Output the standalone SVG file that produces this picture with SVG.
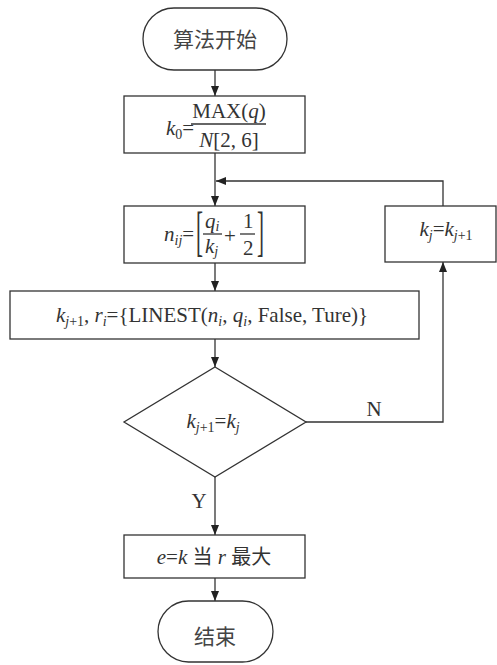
<svg xmlns="http://www.w3.org/2000/svg" width="497" height="665" viewBox="0 0 497 665">
<defs>
<marker id="ah" viewBox="0 0 10 8" refX="10" refY="4" markerWidth="10" markerHeight="8" markerUnits="userSpaceOnUse" orient="auto">
<path d="M0,0 L10,4 L0,8 Z" fill="#222"/>
</marker>
<style>
.s{fill:#fff;stroke:#333;stroke-width:1.3}
.c{fill:none;stroke:#333;stroke-width:1.3}
.t{font-family:'Liberation Serif','Noto Sans CJK SC',serif;font-size:21px;fill:#333}
.z{font-family:'Noto Sans CJK SC',sans-serif;font-size:21px;fill:#444}
.i{font-style:italic}
.sb{font-size:14px}
.cj{font-family:'Noto Sans CJK SC',sans-serif;font-size:20px}
</style>
</defs>
<rect width="497" height="665" fill="#fff"/>
<g id="connectors">
<line class="c" x1="215" y1="70" x2="215" y2="96" marker-end="url(#ah)"/>
<line class="c" x1="215" y1="153" x2="215" y2="206" marker-end="url(#ah)"/>
<polyline class="c" points="443,206 443,181 216,181" marker-end="url(#ah)"/>
<line class="c" x1="215" y1="263" x2="215" y2="291" marker-end="url(#ah)"/>
<line class="c" x1="215" y1="339" x2="215" y2="367" marker-end="url(#ah)"/>
<polyline class="c" points="306,422 443,422 443,262" marker-end="url(#ah)"/>
<line class="c" x1="215" y1="477" x2="215" y2="535" marker-end="url(#ah)"/>
<line class="c" x1="215" y1="578" x2="215" y2="601" marker-end="url(#ah)"/>
<text class="t" x="374" y="416" text-anchor="middle">N</text>
<text class="t" x="199" y="508" text-anchor="middle">Y</text>
</g>
<g id="start">
<rect class="s" x="143" y="8" width="144" height="62" rx="31"/>
<text class="z" x="215" y="47" text-anchor="middle">算法开始</text>
</g>
<g id="init">
<rect class="s" x="124" y="96" width="181" height="57"/>
<text class="t" x="166" y="135"><tspan class="i">k</tspan><tspan class="sb" dy="4">0</tspan><tspan dy="-4">=</tspan></text>
<line class="c" x1="191" y1="124" x2="266" y2="124" stroke-width="1"/>
<text class="t" x="229" y="118" text-anchor="middle">MAX(<tspan class="i">q</tspan>)</text>
<text class="t" x="229" y="147" text-anchor="middle"><tspan class="i">N</tspan>[2, 6]</text>
</g>
<g id="nij">
<rect class="s" x="124" y="206" width="181" height="57"/>
<text class="t" x="164" y="241"><tspan class="i">n</tspan><tspan class="sb i" dy="4">ij</tspan><tspan dy="-4">=</tspan></text>
<text class="t" transform="translate(196,250) scale(1,2.65)">[</text>
<text class="t i" x="205" y="228">q<tspan class="sb" dy="3">i</tspan></text>
<line class="c" x1="203" y1="234" x2="222" y2="234" stroke-width="1"/>
<text class="t i" x="205" y="253">k<tspan class="sb" dy="3">j</tspan></text>
<text class="t" x="224" y="243">+</text>
<text class="t" x="243" y="228">1</text>
<line class="c" x1="240" y1="234" x2="255" y2="234" stroke-width="1"/>
<text class="t" x="243" y="255">2</text>
<text class="t" transform="translate(257,250) scale(1,2.65)">]</text>
</g>
<g id="linest">
<rect class="s" x="10" y="291" width="409" height="48"/>
<text class="t" x="212" y="322" text-anchor="middle"><tspan class="i">k</tspan><tspan class="sb i" dy="4">j</tspan><tspan class="sb">+1</tspan><tspan dy="-4">, </tspan><tspan class="i">r</tspan><tspan class="sb i" dy="4">i</tspan><tspan dy="-4">={LINEST(</tspan><tspan class="i">n</tspan><tspan class="sb i" dy="4">i</tspan><tspan dy="-4">, </tspan><tspan class="i">q</tspan><tspan class="sb i" dy="4">i</tspan><tspan dy="-4">, False, Ture)}</tspan></text>
</g>
<g id="update">
<rect class="s" x="385" y="206" width="111" height="56"/>
<text class="t" x="446" y="236" text-anchor="middle"><tspan class="i">k</tspan><tspan class="sb i" dy="4">j</tspan><tspan dy="-4">=</tspan><tspan class="i">k</tspan><tspan class="sb i" dy="4">j</tspan><tspan class="sb">+1</tspan></text>
</g>
<g id="decision">
<polygon class="s" points="215,367 306,422 215,477 124,422"/>
<text class="t" x="213" y="428" text-anchor="middle"><tspan class="i">k</tspan><tspan class="sb i" dy="4">j</tspan><tspan class="sb">+1</tspan><tspan dy="-4">=</tspan><tspan class="i">k</tspan><tspan class="sb i" dy="4">j</tspan></text>
</g>
<g id="result">
<rect class="s" x="124" y="535" width="181" height="43"/>
<text class="t" x="214" y="564" text-anchor="middle"><tspan class="i">e</tspan>=<tspan class="i">k</tspan> <tspan class="cj">当</tspan> <tspan class="i">r</tspan> <tspan class="cj">最大</tspan></text>
</g>
<g id="end">
<rect class="s" x="158" y="601" width="115" height="61" rx="30.5"/>
<text class="z" x="215" y="644" text-anchor="middle">结束</text>
</g>
</svg>
